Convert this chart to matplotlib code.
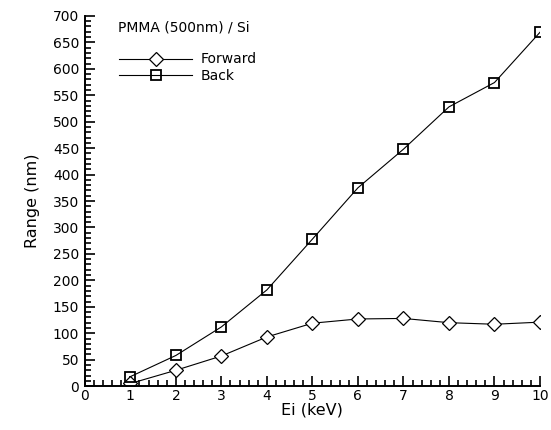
import matplotlib
matplotlib.use('Agg')
import matplotlib.pyplot as plt
from matplotlib.ticker import MultipleLocator

# data
energy = [1, 2, 3, 4, 5, 6, 7, 8, 9, 10]            # Ei (keV)
forward = [5, 30, 57, 93, 119, 127, 128, 120, 117, 121]
back = [18, 58, 112, 182, 278, 375, 448, 528, 574, 669]
title_text = 'PMMA (500nm) / Si'

plt.rcParams['font.family'] = ['DejaVu Sans']
plt.rcParams['font.size'] = 9

fig = plt.figure(figsize=(5.51, 4.30), dpi=100)
ax = fig.add_axes([0.154, 0.102, 0.826, 0.861])

ax.plot(energy, forward, color='black', lw=0.8, marker='D', ms=7.5,
        mfc='white', mec='black', mew=0.9, label='Forward')
ax.plot(energy, back, color='black', lw=0.8, marker='s', ms=6.5,
        mfc='none', mec='black', mew=1.3, label='Back')

ax.set_xlim(0, 10)
ax.set_ylim(0, 700)
ax.xaxis.set_major_locator(MultipleLocator(1))
ax.xaxis.set_minor_locator(MultipleLocator(0.2))
ax.yaxis.set_major_locator(MultipleLocator(50))
ax.yaxis.set_minor_locator(MultipleLocator(10))
ax.tick_params(which='major', direction='in', length=7, width=1.2, labelsize=10)
ax.tick_params(which='minor', direction='in', length=4, width=1.2)
ax.tick_params(axis='x', pad=2)
ax.tick_params(axis='y', pad=4)

for side in ('top', 'right'):
    ax.spines[side].set_visible(False)
for side in ('left', 'bottom'):
    ax.spines[side].set_linewidth(1.4)

ax.set_xlabel('Ei (keV)', fontsize=11.5, labelpad=0)
ax.set_ylabel('Range (nm)', fontsize=11.5, labelpad=9)

ax.text(0.072, 0.988, title_text, transform=ax.transAxes, fontsize=10,
        va='top', ha='left')
ax.legend(loc='upper left', bbox_to_anchor=(0.047, 0.935), frameon=False,
          handlelength=5.3, handletextpad=0.6, labelspacing=0.15, fontsize=10)

fig.savefig('out.png', dpi=100)
